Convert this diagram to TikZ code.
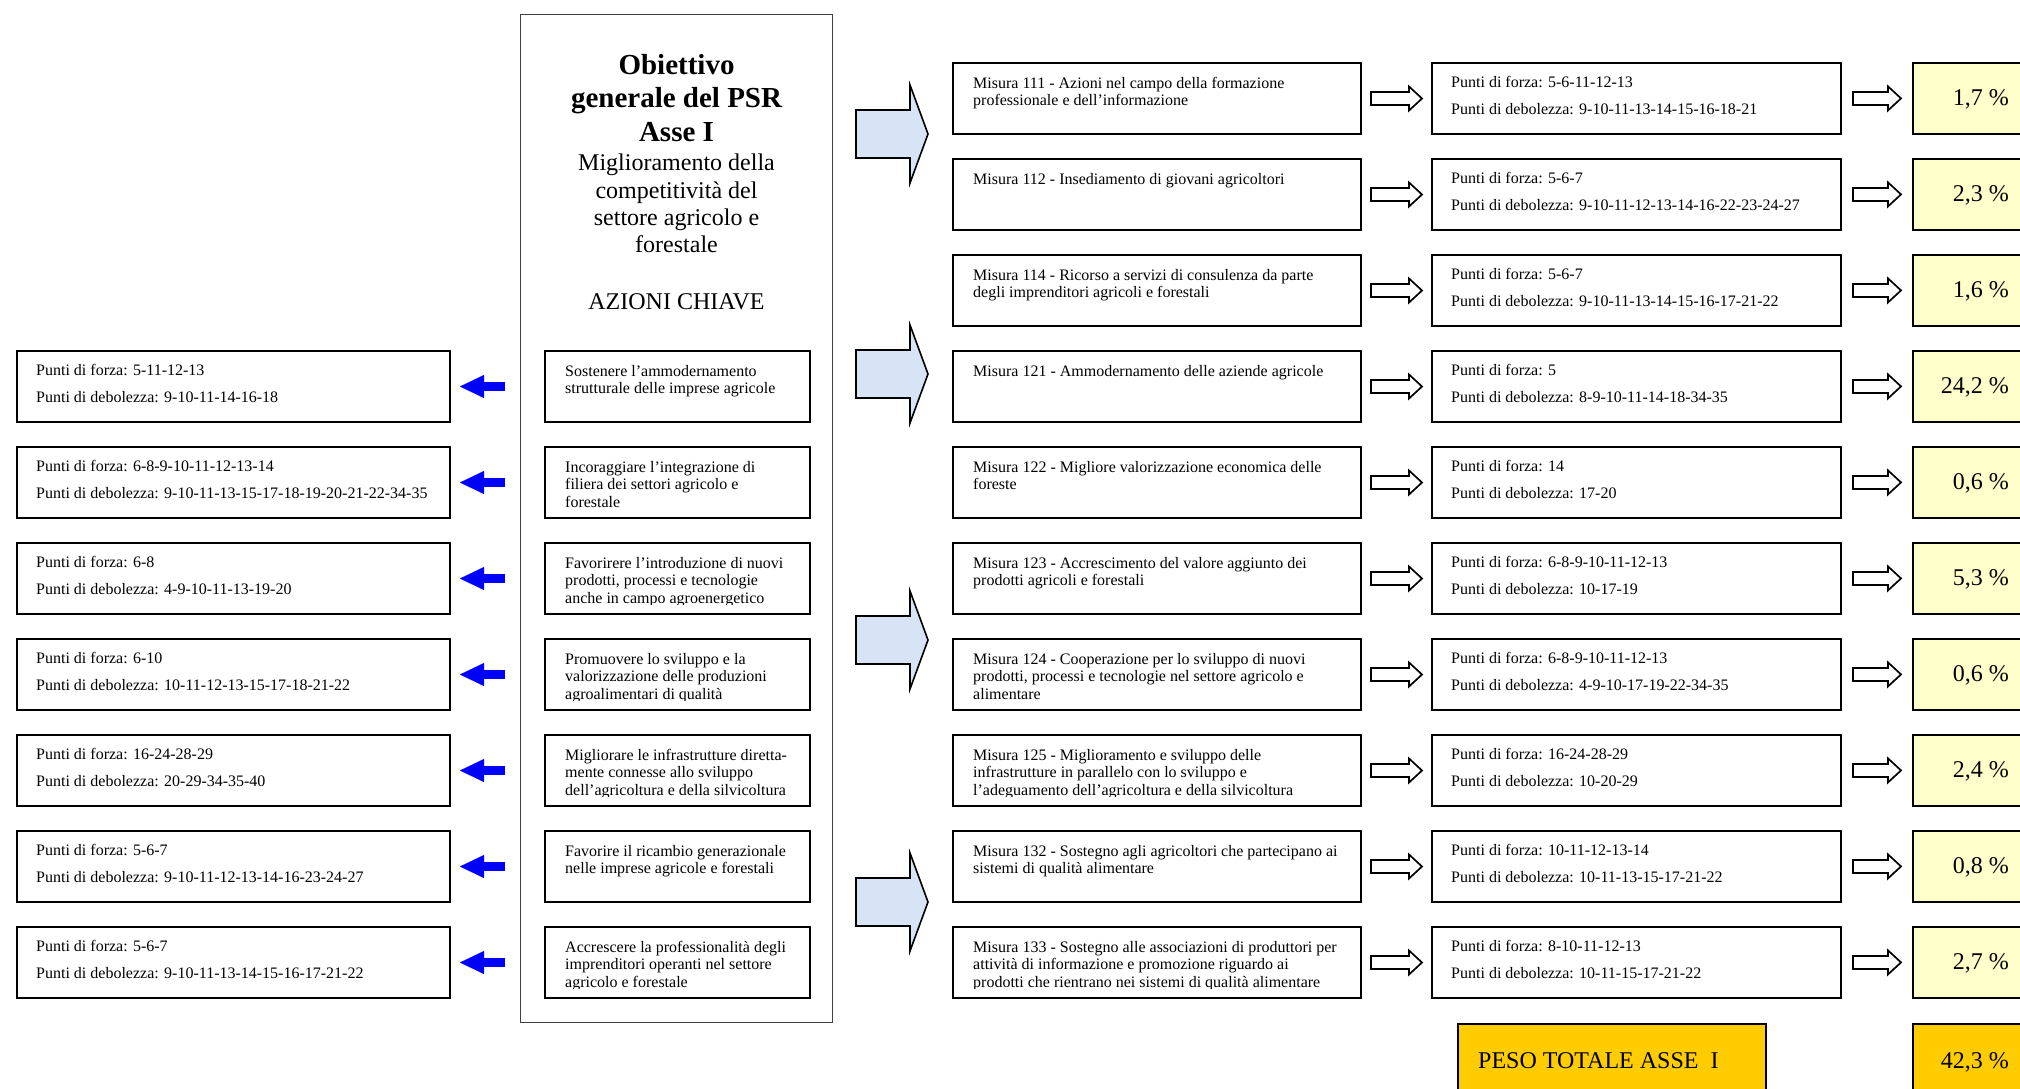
\documentclass[tikz,border=0pt]{standalone}
\usepackage{fontspec}
\setmainfont{Liberation Serif}
\usetikzlibrary{calc,arrows.meta}
\definecolor{arrowblue}{RGB}{214,228,245}
\definecolor{paleyellow}{RGB}{255,255,204}
\definecolor{goldfill}{RGB}{255,204,0}
\definecolor{pureblue}{RGB}{0,0,255}
\newcommand\tstrut{\rule{0pt}{12pt}}
\newcommand\smallfont{\fontsize{16}{17.5}\selectfont}
\newcommand\pctfont{\fontsize{24}{28}\selectfont}
\newcommand\titfont{\fontsize{29}{34}\selectfont\bfseries}
\newcommand\subfont{\fontsize{24}{27}\selectfont}
\tikzset{
  boxnode/.style={draw=black, line width=2pt, inner sep=0pt, anchor=north west, minimum height=71pt},
  txtnode/.style={inner sep=0pt, anchor=north west, align=left, font=\smallfont},
  pcttxt/.style={anchor=base east, inner sep=0pt, font=\pctfont},
  leftarrow/.style={draw=pureblue, line width=8.7pt, shorten >=9pt, shorten <=39pt,
    -{Triangle[length=24pt,width=23pt,line width=0.1pt]}},
  harrow/.pic={\draw[line width=1.7pt, fill=white, line join=miter]
    (-#1/2,-6.5) -- (#1/2-13,-6.5) -- (#1/2-13,-12) -- (#1/2,0) -- (#1/2-13,12)
    -- (#1/2-13,6.5) -- (-#1/2,6.5) -- cycle;},
  bigarrow/.pic={\draw[line width=1.6pt, fill=arrowblue, line join=miter]
    (-36,-24) -- (18,-24) -- (18,-49) -- (36,0) -- (18,49) -- (18,24) -- (-36,24) -- cycle;}
}
% #1 name, #2 x, #3 y, #4 width, #5 forza, #6 debolezza
\newcommand\puntibox[6]{%
  \node[boxnode, minimum width=#4pt] (#1) at (#2,#3) {};
  \node[txtnode] (#1t) at ($(#1.north west)+(20,13)$)
    {\tstrut Punti di forza: #5\\[9.5pt]Punti di debolezza: #6};
}
% #1 name, #2 x, #3 y, #4 width, #5 text
\newcommand\textbox[5]{%
  \node[boxnode, minimum width=#4pt] (#1) at (#2,#3) {};
  \begin{scope}
    \clip (#2,#3) rectangle (#2+#4,#3+62.5);
    \node[txtnode] (#1t) at ($(#1.north west)+(21,14)$) {\tstrut #5};
  \end{scope}
}
% #1 name, #2 y, #3 text
\newcommand\pctbox[3]{%
  \node[boxnode, line width=1.6pt, fill=paleyellow, minimum width=140pt] (#1) at (1912,#2) {};
  \node[pcttxt] (#1t) at (2009,#2+43.5) {#3};
}
\begin{document}
\begin{tikzpicture}[x=1pt,y=-1pt]
\clip (0,0) rectangle (2020,1088);
\fill[white] (0,0) rectangle (2020,1088);

% central box
\node[draw=black!75, line width=1.2pt, inner sep=0pt, anchor=north west,
  minimum width=312pt, minimum height=1008pt] (cbox) at (520,14) {};
\node[anchor=base, inner sep=0pt, font=\titfont] (t1) at (676.5,74) {Obiettivo};
\node[anchor=base, inner sep=0pt, font=\titfont] (t2) at (676.5,107.5) {generale del PSR};
\node[anchor=base, inner sep=0pt, font=\titfont] (t3) at (676.5,141.5) {Asse I};
\node[anchor=base, inner sep=0pt, font=\subfont] (t4) at (676.5,170.5) {Miglioramento della};
\node[anchor=base, inner sep=0pt, font=\subfont] (t5) at (676.5,198) {competitività del};
\node[anchor=base, inner sep=0pt, font=\subfont] (t6) at (676.5,225.5) {settore agricolo e};
\node[anchor=base, inner sep=0pt, font=\subfont] (t7) at (676.5,252.5) {forestale};
\node[anchor=base, inner sep=0pt, font=\subfont] (t8) at (676.5,309) {AZIONI CHIAVE};

% key actions
\textbox{a1}{544}{350}{265}{Sostenere l’ammodernamento\\strutturale delle imprese agricole}
\textbox{a2}{544}{446}{265}{Incoraggiare l’integrazione di\\filiera dei settori agricolo e\\forestale}
\textbox{a3}{544}{542}{265}{Favorirere l’introduzione di nuovi\\prodotti, processi e tecnologie\\anche in campo agroenergetico}
\textbox{a4}{544}{638}{265}{Promuovere lo sviluppo e la\\valorizzazione delle produzioni\\agroalimentari di qualità}
\textbox{a5}{544}{734}{265}{Migliorare le infrastrutture diretta-\\mente connesse allo sviluppo\\dell’agricoltura e della silvicoltura}
\textbox{a6}{544}{830}{265}{Favorire il ricambio generazionale\\nelle imprese agricole e forestali}
\textbox{a7}{544}{926}{265}{Accrescere la professionalità degli\\imprenditori operanti nel settore\\agricolo e forestale}

% left boxes
\puntibox{l1}{16}{350}{433}{5-11-12-13}{9-10-11-14-16-18}
\puntibox{l2}{16}{446}{433}{6-8-9-10-11-12-13-14}{9-10-11-13-15-17-18-19-20-21-22-34-35}
\puntibox{l3}{16}{542}{433}{6-8}{4-9-10-11-13-19-20}
\puntibox{l4}{16}{638}{433}{6-10}{10-11-12-13-15-17-18-21-22}
\puntibox{l5}{16}{734}{433}{16-24-28-29}{20-29-34-35-40}
\puntibox{l6}{16}{830}{433}{5-6-7}{9-10-11-12-13-14-16-23-24-27}
\puntibox{l7}{16}{926}{433}{5-6-7}{9-10-11-13-14-15-16-17-21-22}

\foreach \i in {1,...,7} {\draw[leftarrow] (a\i.west) -- (l\i.east);}

% big arrows
\pic at (892,134) {bigarrow};
\pic at (892,374) {bigarrow};
\pic at (892,640) {bigarrow};
\pic at (892,902) {bigarrow};

% misure
\textbox{m1}{952}{62}{408}{Misura 111 - Azioni nel campo della formazione\\professionale e dell’informazione}
\textbox{m2}{952}{158}{408}{Misura 112 - Insediamento di giovani agricoltori}
\textbox{m3}{952}{254}{408}{Misura 114 - Ricorso a servizi di consulenza da parte\\degli imprenditori agricoli e forestali}
\textbox{m4}{952}{350}{408}{Misura 121 - Ammodernamento delle aziende agricole}
\textbox{m5}{952}{446}{408}{Misura 122 - Migliore valorizzazione economica delle\\foreste}
\textbox{m6}{952}{542}{408}{Misura 123 - Accrescimento del valore aggiunto dei\\prodotti agricoli e forestali}
\textbox{m7}{952}{638}{408}{Misura 124 - Cooperazione per lo sviluppo di nuovi\\prodotti, processi e tecnologie nel settore agricolo e\\alimentare}
\textbox{m8}{952}{734}{408}{Misura 125 - Miglioramento e sviluppo delle\\infrastrutture in parallelo con lo sviluppo e\\l’adeguamento dell’agricoltura e della silvicoltura}
\textbox{m9}{952}{830}{408}{Misura 132 - Sostegno agli agricoltori che partecipano ai\\sistemi di qualità alimentare}
\textbox{m10}{952}{926}{408}{Misura 133 - Sostegno alle associazioni di produttori per\\attività di informazione e promozione riguardo ai\\prodotti che rientrano nei sistemi di qualità alimentare}

% right punti
\puntibox{p1}{1431}{62}{409}{5-6-11-12-13}{9-10-11-13-14-15-16-18-21}
\puntibox{p2}{1431}{158}{409}{5-6-7}{9-10-11-12-13-14-16-22-23-24-27}
\puntibox{p3}{1431}{254}{409}{5-6-7}{9-10-11-13-14-15-16-17-21-22}
\puntibox{p4}{1431}{350}{409}{5}{8-9-10-11-14-18-34-35}
\puntibox{p5}{1431}{446}{409}{14}{17-20}
\puntibox{p6}{1431}{542}{409}{6-8-9-10-11-12-13}{10-17-19}
\puntibox{p7}{1431}{638}{409}{6-8-9-10-11-12-13}{4-9-10-17-19-22-34-35}
\puntibox{p8}{1431}{734}{409}{16-24-28-29}{10-20-29}
\puntibox{p9}{1431}{830}{409}{10-11-12-13-14}{10-11-13-15-17-21-22}
\puntibox{p10}{1431}{926}{409}{8-10-11-12-13}{10-11-15-17-21-22}

% percentages
\pctbox{c1}{62}{1,7 \%}
\pctbox{c2}{158}{2,3 \%}
\pctbox{c3}{254}{1,6 \%}
\pctbox{c4}{350}{24,2 \%}
\pctbox{c5}{446}{0,6 \%}
\pctbox{c6}{542}{5,3 \%}
\pctbox{c7}{638}{0,6 \%}
\pctbox{c8}{734}{2,4 \%}
\pctbox{c9}{830}{0,8 \%}
\pctbox{c10}{926}{2,7 \%}

\foreach \i in {1,...,10} {
  \pic at ($(m\i.east)!0.5!(p\i.west)$) {harrow=51};
  \pic at ($(p\i.east)!0.5!(c\i.west)$) {harrow=48};
}

% totals
\node[boxnode, line width=1.6pt, fill=goldfill, minimum width=308pt, minimum height=100pt] (peso) at (1457,1023) {};
\node[anchor=base west, inner sep=0pt, font=\pctfont] (pesot) at (1478,1068) {PESO TOTALE ASSE\ \ I};
\node[boxnode, line width=1.6pt, fill=goldfill, minimum width=140pt, minimum height=100pt] (tot) at (1912,1023) {};
\node[pcttxt] (tott) at (2009,1068) {42,3 \%};
\end{tikzpicture}
\end{document}
